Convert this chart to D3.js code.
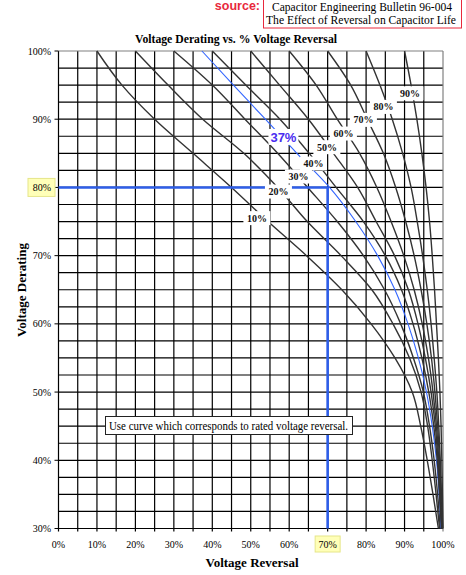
<!DOCTYPE html>
<html>
<head>
<meta charset="utf-8">
<script src="https://cdn.jsdelivr.net/npm/d3@7"></script>
<style>
  body { margin: 0; background: #fff; }
  text { font-family: 'Liberation Serif', 'Times New Roman', serif; }
</style>
</head>
<body>
<svg width="466" height="575"></svg>
<script>
// voltage derating levels (y), one reading per curve at each level
const derating = [100, 95, 90, 85, 80, 75, 70, 65, 60, 55, 50, 45, 40, 35, 30];

const rev10 = [10, 16.5, 25, 35, 45, 54.5, 64.5, 73.7, 81.3, 87.5, 92, 94.2, 95.9, 97.4, 98.8];
const rev20 = [20, 28.5, 37.5, 48.2, 57, 64.7, 73.5, 81.5, 87, 91.3, 94.3, 96, 97.2, 98.2, 99.1];
const rev30 = [30, 40, 48.5, 57, 64.8, 72.5, 79.3, 84.8, 89, 92.3, 94.9, 96.5, 97.7, 98.6, 99.3];
const rev37 = [37.3, 45.5, 53.8, 62, 70.5, 77.3, 83, 87.5, 90.9, 93.6, 95.7, 97.2, 98.3, 99, 99.5];
const rev40 = [40, 48.7, 57.6, 65.2, 72.2, 79.3, 85, 89.2, 92.2, 94.5, 96.3, 97.6, 98.5, 99.1, 99.6];
const rev50 = [50, 57.5, 65, 71.5, 77.8, 82.6, 87.4, 91, 93.5, 95.4, 96.9, 98, 98.7, 99.2, 99.7];
const rev60 = [60, 67, 72.5, 78.3, 82.8, 86.5, 89.8, 92.5, 94.6, 96.2, 97.4, 98.3, 98.9, 99.4, 99.7];
const rev70 = [70, 76, 80.3, 84.5, 87.7, 90.3, 92.5, 94.3, 95.8, 97, 97.9, 98.6, 99.1, 99.5, 99.8];
const rev80 = [80, 83.6, 86.8, 89.5, 91.7, 93.3, 94.7, 95.9, 96.9, 97.7, 98.4, 98.9, 99.3, 99.6, 99.9];
const rev90 = [90, 91.7, 93.2, 94.5, 95.6, 96.5, 97.2, 97.8, 98.3, 98.8, 99.2, 99.5, 99.7, 99.85, 100];

const curveNames = ['10%', '20%', '30%', '37%', '40%', '50%', '60%', '70%', '80%', '90%'];
const curveValues = [rev10, rev20, rev30, rev37, rev40, rev50, rev60, rev70, rev80, rev90];

// where each curve label sits: [reversal, derating]
const labelAt = [[51.6, 75.5], [57.2, 79.4], [62.4, 81.6], [58.5, 87.4], [66.3, 83.5],
                 [69.8, 85.9], [74.1, 87.9], [79.3, 89.9], [84.5, 91.8], [91.4, 93.8]];

const xTicks = [0, 10, 20, 30, 40, 50, 60, 70, 80, 90, 100];
const yTicks = [30, 40, 50, 60, 70, 80, 90, 100];
const markReversal = 70, markDerating = 80;

const svg = d3.select('svg');

const x = d3.scaleLinear().domain([0, 100]).range([58.5, 443]);
const y = d3.scaleLinear().domain([30, 100]).range([528.5, 51]);

// grid: every 5% across, every 2.5% down
const g = svg.append('g');
g.selectAll('line.vx')
  .data(d3.range(0, 100, 5))
  .join('line')
    .attr('x1', d => x(d)).attr('x2', d => x(d))
    .attr('y1', y(100)).attr('y2', y(30) + 3)
    .attr('stroke', '#000').attr('stroke-width', 1.2);
g.selectAll('line.hy')
  .data(d3.range(30, 100, 2.5))
  .join('line')
    .attr('x1', x(0)).attr('x2', x(100))
    .attr('y1', d => y(d)).attr('y2', d => y(d))
    .attr('stroke', '#000').attr('stroke-width', 1.2);
g.append('line')
    .attr('x1', x(100)).attr('x2', x(100)).attr('y1', y(100)).attr('y2', y(30) + 3)
    .attr('stroke', '#808080').attr('stroke-width', 1.2);
g.append('line')
    .attr('x1', x(0)).attr('x2', x(100)).attr('y1', y(100)).attr('y2', y(100))
    .attr('stroke', '#808080').attr('stroke-width', 1.2);

// y ticks
g.selectAll('line.ty')
  .data(yTicks)
  .join('line')
    .attr('x1', x(0) - 4).attr('x2', x(0))
    .attr('y1', d => y(d)).attr('y2', d => y(d))
    .attr('stroke', '#000');

// curves
const line = d3.line()
  .x(d => x(d[0]))
  .y(d => y(d[1]))
  .curve(d3.curveMonotoneY);

curveValues.forEach((vals, i) => {
  const pts = vals.map((v, j) => [v, derating[j]]);
  const blue = curveNames[i] === '37%';
  svg.append('path')
      .datum(pts)
      .attr('fill', 'none')
      .attr('stroke', blue ? '#3366ff' : '#333')
      .attr('stroke-width', blue ? 1.1 : 1.4)
      .attr('stroke-linejoin', 'round')
      .attr('d', line);
});

// blue reference lines
svg.append('path')
    .attr('fill', 'none')
    .attr('stroke', '#2e5ee8')
    .attr('stroke-width', 2.6)
    .attr('d', 'M' + x(0) + ',' + y(markDerating) + 'H' + x(markReversal) + 'V' + y(30));

// curve labels
curveNames.forEach((name, i) => {
  const blue = name === '37%';
  const cx = x(labelAt[i][0]), cy = y(labelAt[i][1]);
  const w = blue ? 30 : 27, h = blue ? 16 : 14;
  svg.append('rect')
      .attr('x', cx - w / 2).attr('y', cy - h / 2)
      .attr('width', w).attr('height', h)
      .attr('fill', '#fff');
  svg.append('text')
      .attr('x', cx).attr('y', cy + (blue ? 5 : 3.5))
      .attr('text-anchor', 'middle')
      .style('font-family', blue ? 'Arial, Liberation Sans, sans-serif' : null)
      .style('font-size', blue ? '13px' : '10px')
      .style('font-weight', 'bold')
      .attr('fill', blue ? '#4a2df0' : '#111')
      .text(name);
});

// highlighted tick boxes
svg.append('rect')
    .attr('x', 28).attr('y', y(markDerating) - 9).attr('width', 27).attr('height', 18)
    .attr('fill', '#ffffb8').attr('stroke', '#e6e68a');
svg.append('rect')
    .attr('x', x(markReversal) - 12.5).attr('y', 536).attr('width', 25).attr('height', 16)
    .attr('fill', '#ffffb8').attr('stroke', '#e6e68a');

// tick labels
svg.selectAll('text.yl')
  .data(yTicks)
  .join('text')
    .attr('x', 51).attr('y', d => y(d) + 3.5)
    .attr('text-anchor', 'end')
    .style('font-size', '10px')
    .text(d => d + '%');
svg.selectAll('text.xl')
  .data(xTicks)
  .join('text')
    .attr('x', d => x(d)).attr('y', 548)
    .attr('text-anchor', 'middle')
    .style('font-size', '10px')
    .text(d => d + '%');

// note box
svg.append('rect')
    .attr('x', 105.5).attr('y', 416.5).attr('width', 247).attr('height', 18)
    .attr('fill', '#fff').attr('stroke', '#222').attr('stroke-width', 1);
svg.append('text')
    .attr('x', 109).attr('y', 430)
    .attr('textLength', 239).attr('lengthAdjust', 'spacingAndGlyphs')
    .style('font-size', '12px')
    .text('Use curve which corresponds to rated voltage reversal.');

// titles
svg.append('text')
    .attr('x', 135).attr('y', 43)
    .attr('textLength', 202).attr('lengthAdjust', 'spacingAndGlyphs')
    .style('font-size', '13px').style('font-weight', 'bold')
    .text('Voltage Derating vs. % Voltage Reversal');
svg.append('text')
    .attr('x', 252).attr('y', 567)
    .attr('text-anchor', 'middle')
    .style('font-size', '13px').style('font-weight', 'bold')
    .text('Voltage Reversal');
svg.append('text')
    .attr('transform', 'translate(26,290) rotate(-90)')
    .attr('text-anchor', 'middle')
    .style('font-size', '13px').style('font-weight', 'bold')
    .text('Voltage Derating');

// source box
svg.append('rect')
    .attr('x', 263.5).attr('y', -2).attr('width', 198).attr('height', 30)
    .attr('fill', '#fff').attr('stroke', '#e8283c').attr('stroke-width', 1);
svg.append('text')
    .attr('x', 260).attr('y', 10)
    .attr('text-anchor', 'end')
    .style('font-family', 'Arial, Liberation Sans, sans-serif')
    .style('font-size', '12.5px').style('font-weight', 'bold')
    .attr('fill', '#e8283c')
    .text('source:');
svg.append('text')
    .attr('x', 272).attr('y', 11)
    .attr('textLength', 180).attr('lengthAdjust', 'spacingAndGlyphs')
    .style('font-size', '12px')
    .text('Capacitor Engineering Bulletin 96-004');
svg.append('text')
    .attr('x', 266).attr('y', 23.5)
    .attr('textLength', 190).attr('lengthAdjust', 'spacingAndGlyphs')
    .style('font-size', '12px')
    .text('The Effect of Reversal on Capacitor Life');
</script>
</body>
</html>
